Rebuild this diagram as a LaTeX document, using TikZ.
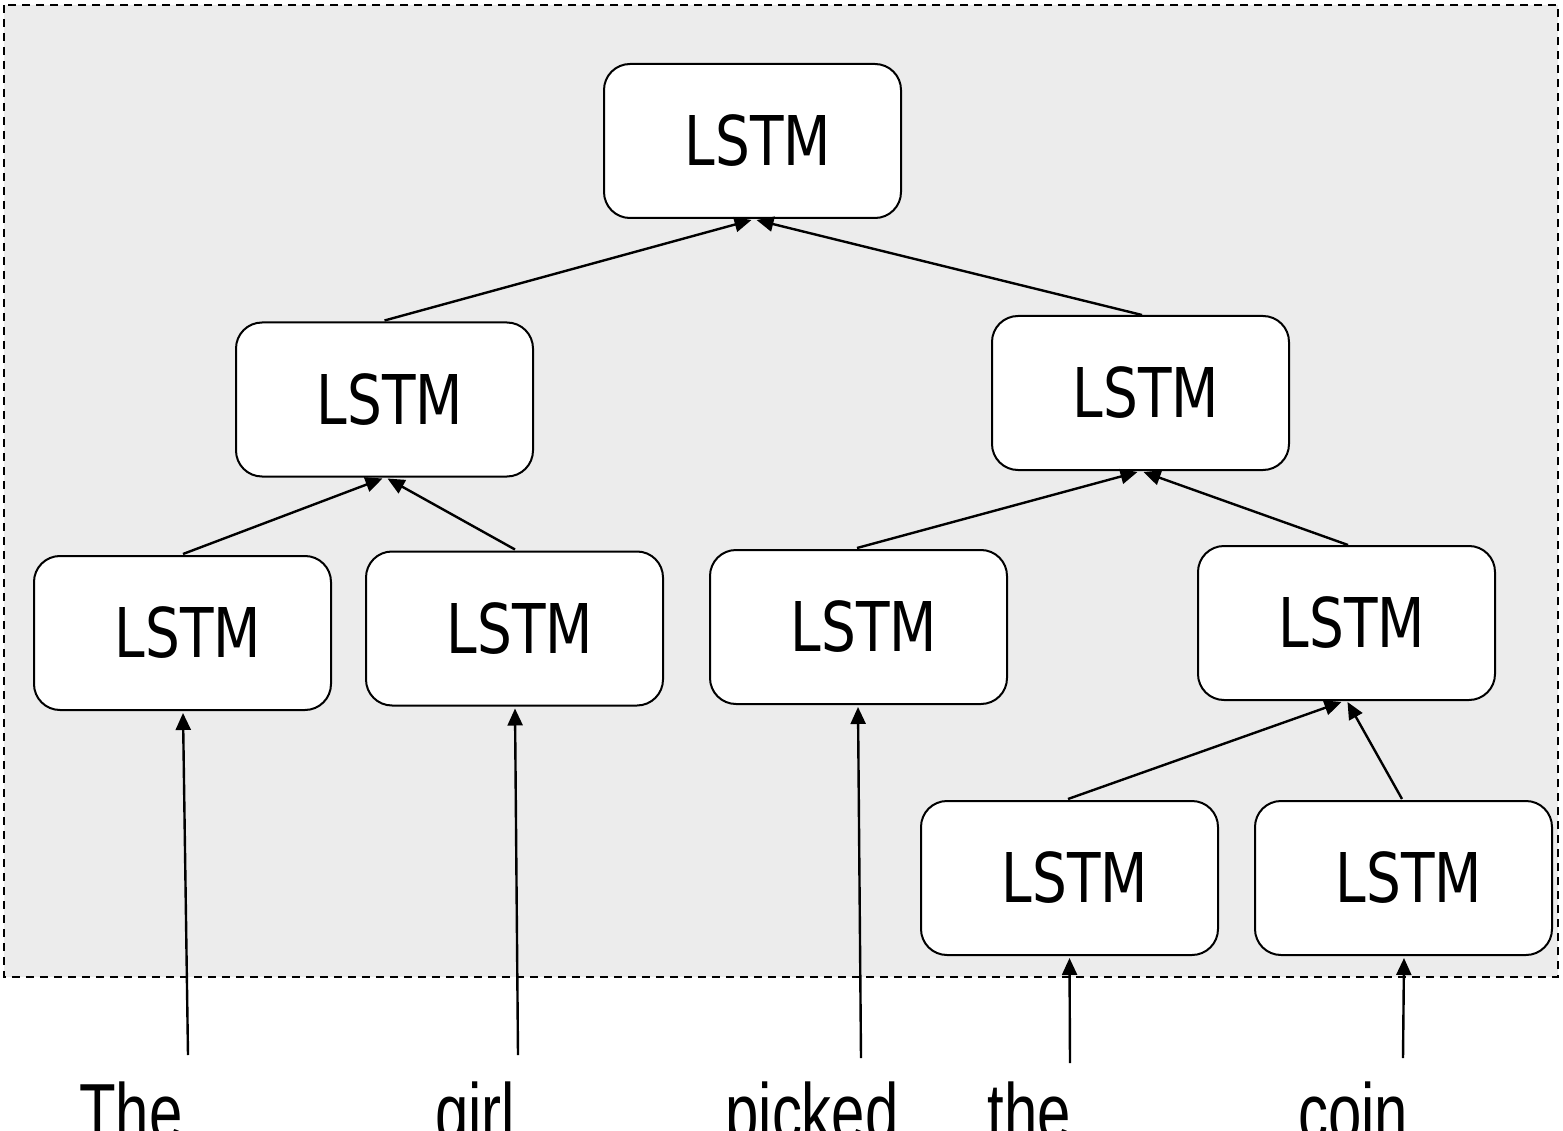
\documentclass[tikz,border=0pt]{standalone}
\usepackage{fontspec}
\setmainfont{Liberation Sans}
\newfontfamily\boxfont{DejaVu Sans}
\usetikzlibrary{arrows.meta,calc}

\tikzset{
  cell/.style={draw=black, line width=2pt, fill=white, rounded corners=26pt,
    minimum width=297pt, minimum height=154pt, inner sep=0pt,
    font=\boxfont\fontsize{68.6}{80}\selectfont},
  link/.style={line width=2.4pt, -{Triangle[length=17pt,width=15pt]}},
  word/.style={anchor=base, inner sep=0pt, font=\fontsize{81}{90}\selectfont},
}
\newcommand{\lstmtext}{\hspace*{11pt}\scalebox{0.80}[1]{LSTM}}
\newcommand{\wordtext}[1]{\scalebox{0.74}[1]{#1}}

\begin{document}
\begin{tikzpicture}[x=1pt,y=-1pt]
  % page and visible area; the word row runs past the lower edge
  \fill[white] (0,0) rectangle (1563,1131);
  \useasboundingbox (0,0) rectangle (1563,1131);
  \clip (0,0) rectangle (1563,1131);

  % shaded panel holding the tree
  \draw[fill={rgb,255:red,236;green,236;blue,236}, line width=2pt,
        dash pattern=on 8pt off 6pt] (4,5) rectangle (1558,977);

  % LSTM cells
  \node[cell] (root) at (752.5,141) {\lstmtext};
  \node[cell] (ml)   at (384.5,399.5) {\lstmtext};
  \node[cell] (mr)   at (1140.5,393) {\lstmtext};
  \node[cell] (l1)   at (182.5,633) {\lstmtext};
  \node[cell] (l2)   at (514.5,628.5) {\lstmtext};
  \node[cell] (l3)   at (858.5,627) {\lstmtext};
  \node[cell] (l4)   at (1346.5,623) {\lstmtext};
  \node[cell] (b1)   at (1069.5,878) {\lstmtext};
  \node[cell] (b2)   at (1403.5,878) {\lstmtext};

  % input words
  \node[word] (wThe)    at (131,1140) {\wordtext{The}};
  \node[word] (wgirl)   at (475,1140) {\wordtext{girl}};
  \node[word] (wpicked) at (812,1140) {\wordtext{picked}};
  \node[word] (wthe)    at (1029,1140) {\wordtext{the}};
  \node[word] (wcoin)   at (1353,1140) {\wordtext{coin}};

  % tails of the input arrows
  \coordinate (tThe)    at (188,1055);
  \coordinate (tgirl)   at (518,1055);
  \coordinate (tpicked) at (861,1058);
  \coordinate (tthe)    at (1070,1063);
  \coordinate (tcoin)   at (1403,1058);

  % words feed the leaf cells
  \draw[link] (tThe)    -- ($(l1.south)+(0.5,2)$);
  \draw[link] (tgirl)   -- ($(l2.south)+(0.5,2)$);
  \draw[link] (tpicked) -- ($(l3.south)+(-0.5,2)$);
  \draw[link] (tthe)    -- ($(b1.south)+(0,2)$);
  \draw[link] (tcoin)   -- ($(b2.south)+(0.5,2)$);

  % tree composition
  \draw[link] ($(ml.north)+(0,-1)$) -- ($(root.south)+(-1,1)$);
  \draw[link] ($(mr.north)+(1.5,0)$) -- ($(root.south)+(4,1)$);
  \draw[link] ($(l1.north)+(0.5,-1)$) -- ($(ml.south)+(-2,1)$);
  \draw[link] ($(l2.north)+(0.5,-1)$) -- ($(ml.south)+(3,1)$);
  \draw[link] ($(l3.north)+(-1.5,-1)$) -- ($(mr.south)+(-3,1)$);
  \draw[link] ($(l4.north)+(1.5,0)$) -- ($(mr.south)+(3,1)$);
  \draw[link] ($(b1.north)+(-1.5,-1)$) -- ($(l4.south)+(-5,1)$);
  \draw[link] ($(b2.north)+(-1.5,-1)$) -- ($(l4.south)+(1,1)$);
\end{tikzpicture}
\end{document}
